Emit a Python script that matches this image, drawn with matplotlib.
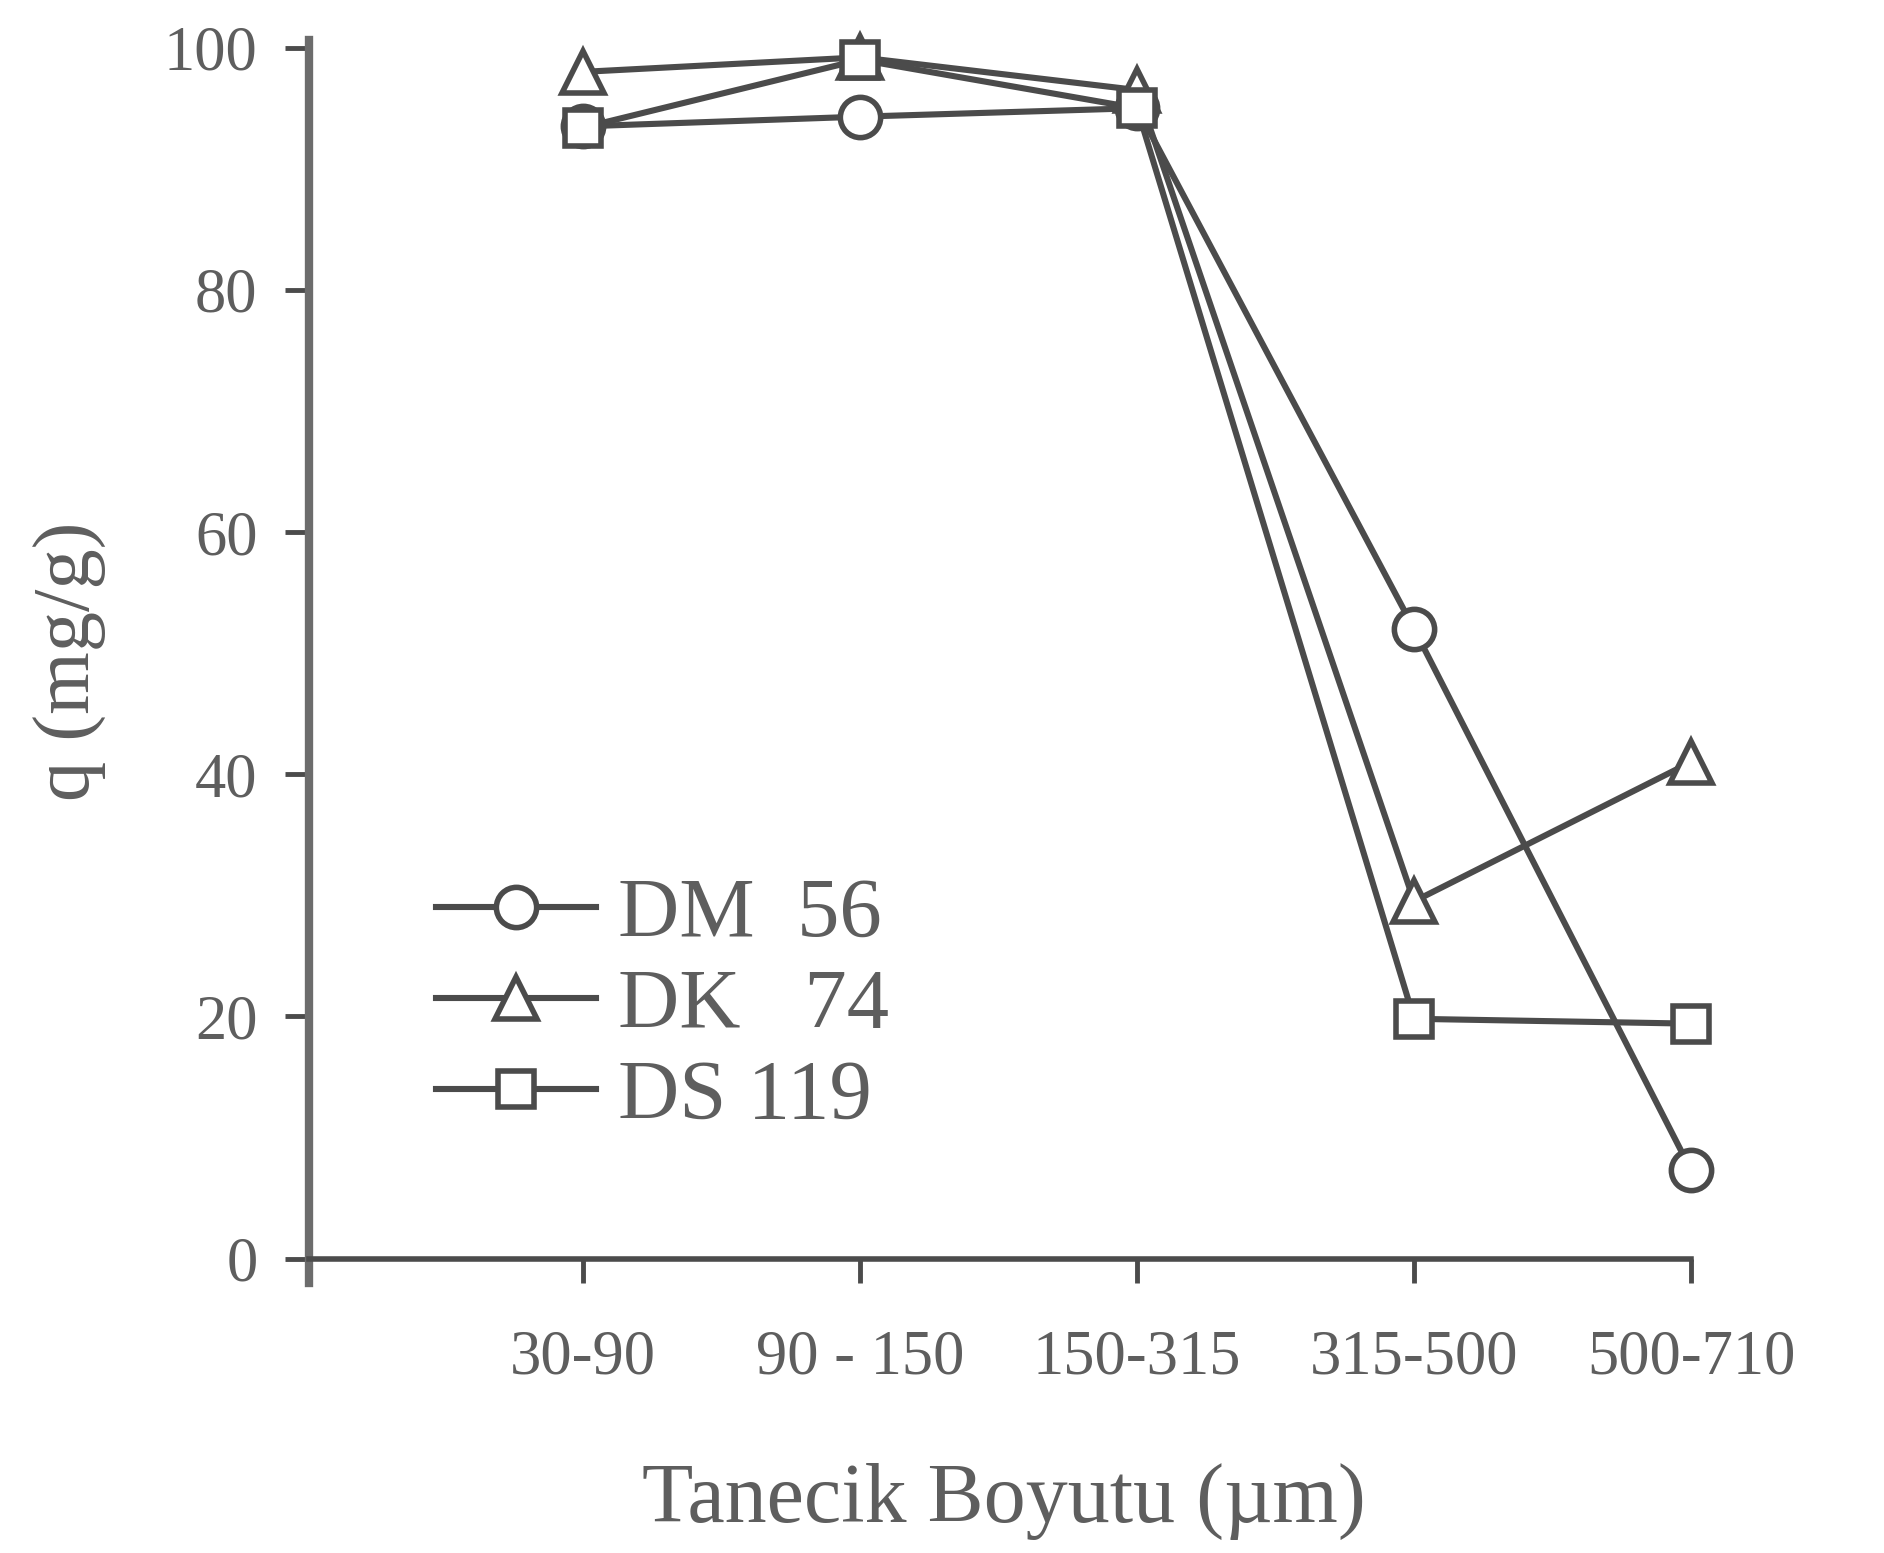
"""Adsorpsiyon kapasitesi - tanecik boyutu grafigi."""

import matplotlib.pyplot as plt
import numpy as np

plt.rcParams["font.family"] = ["Liberation Serif", "DejaVu Serif"]

size_labels = ["30-90", "90 - 150", "150-315", "315-500", "500-710"]
dm56 = [93.5, 94.3, 95.0, 52.0, 7.3]
dk74 = [98.0, 99.2, 96.5, 29.5, 41.0]
ds119 = [93.4, 99.0, 95.0, 19.8, 19.4]

series = [
    ("DM  56", dm56, "o", 29),
    ("DK   74", dk74, "^", 30),
    ("DS 119", ds119, "s", 26),
]

LINE = "#4b4b4b"
TEXT = "#5e5e5e"
AXIS = "#6c6c6c"

fig = plt.figure(figsize=(18.84, 15.53), dpi=100)
ax = fig.add_axes([0.164, 0.174, 0.738, 0.800])

x = np.arange(len(size_labels))
handles = []
for label, vals, marker, ms in series:
    (h,) = ax.plot(
        x, vals, color=LINE, linewidth=4.4, marker=marker, markersize=ms,
        markerfacecolor="white", markeredgecolor=LINE, markeredgewidth=4,
        label=label, clip_on=False,
    )
    handles.append(h)

ax.set_xlim(-0.99, 4.03)
ax.set_ylim(-2, 100.6)

for side in ("top", "right"):
    ax.spines[side].set_visible(False)
ax.spines["left"].set_linewidth(6)
ax.spines["left"].set_color(AXIS)
ax.spines["bottom"].set_position(("data", 0))
ax.spines["bottom"].set_linewidth(4)
ax.spines["bottom"].set_color(LINE)
ax.spines["bottom"].set_bounds(-0.99, 4.0)

ax.set_yticks([0, 20, 40, 60, 80, 100])
ax.set_xticks(x)
ax.set_xticklabels(size_labels)
ax.tick_params(axis="y", direction="out", length=17, width=3.5, color=LINE,
               pad=20, labelsize=45, labelcolor=TEXT)
ax.tick_params(axis="x", direction="out", length=17, width=3.5, color=LINE,
               pad=34, labelsize=45, labelcolor=TEXT)

ax.set_xlabel("Tanecik Boyutu (µm)", fontsize=60.5, color=TEXT)
ax.xaxis.set_label_coords(0.5, -0.145)
ax.set_ylabel("q (mg/g)", fontsize=58, color=TEXT)
ax.yaxis.set_label_coords(-0.145, 0.5)

leg = ax.legend(
    handles=handles, loc="upper left", bbox_to_anchor=(0.091, 0.326),
    frameon=False, fontsize=61, handlelength=1.9, handletextpad=0.25,
    labelspacing=0.16, borderpad=0, borderaxespad=0,
)
for t in leg.get_texts():
    t.set_color(TEXT)

fig.savefig("out.png", dpi=100, facecolor="white")
